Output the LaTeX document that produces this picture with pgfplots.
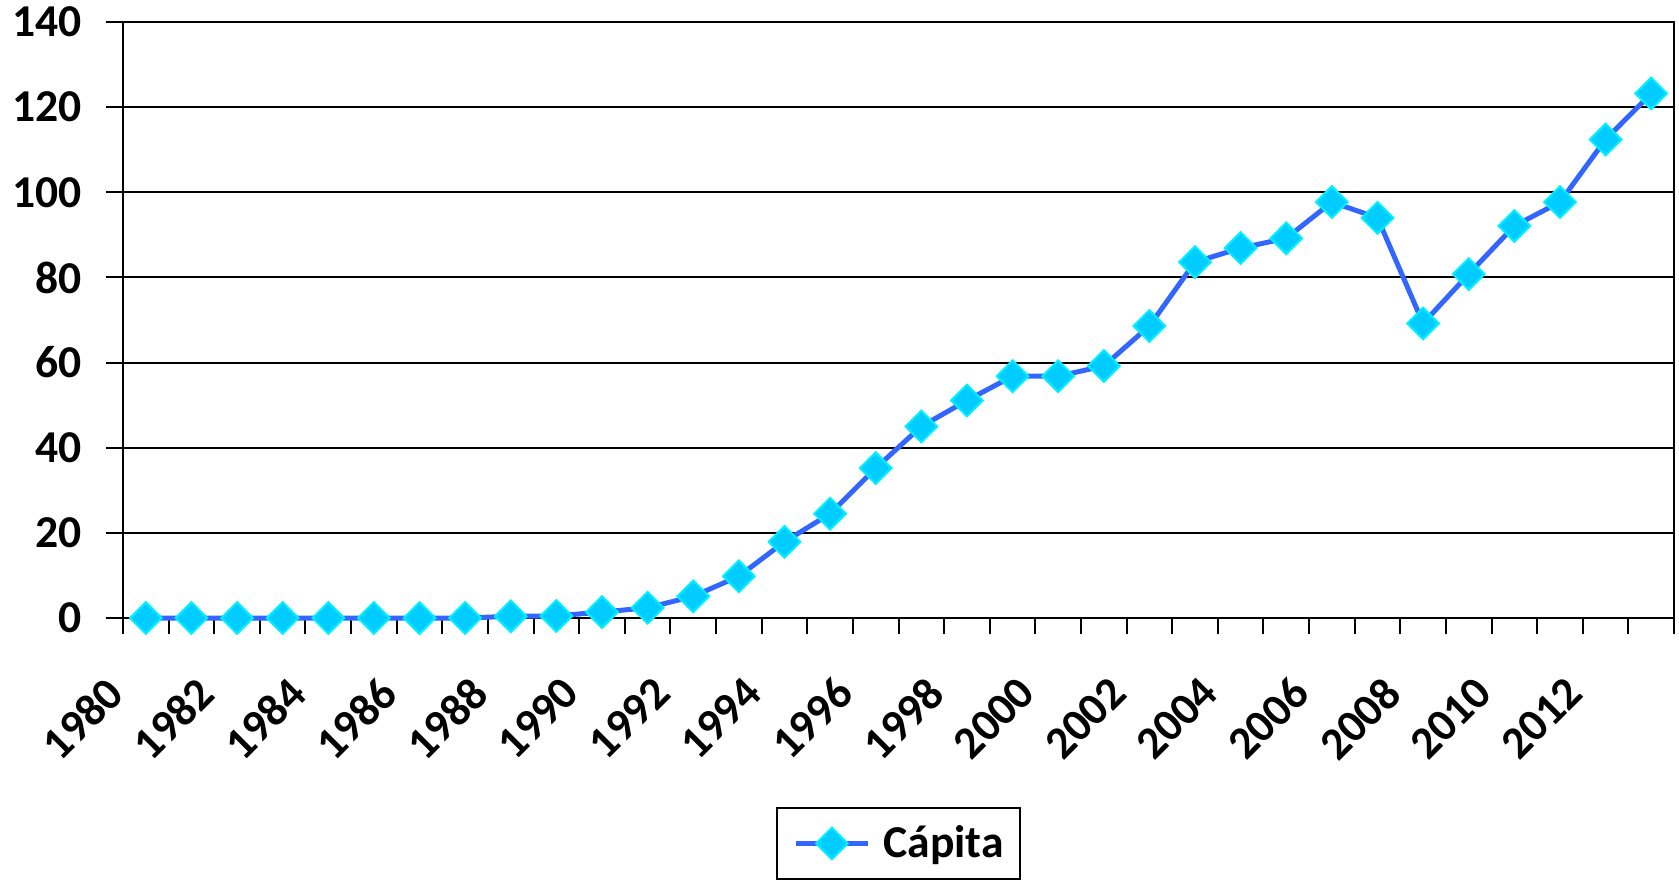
\documentclass[border=0pt]{standalone}
\usepackage{pgfplots}
\pgfplotsset{compat=1.18}
\usepackage{fontspec}
\setmainfont{Carlito}
\definecolor{serie}{HTML}{3366FF}
\definecolor{markfill}{HTML}{00CCFF}
\definecolor{markdraw}{HTML}{00F0FF}
\newcommand{\chartfont}{\fontsize{22.8}{27}\selectfont\bfseries}

\begin{document}
\begin{tikzpicture}
\begin{axis}[
    name=ax,
    scale only axis,
    width=775.5pt, height=298pt,
    xmin=-0.5, xmax=33.5,
    ymin=0, ymax=140,
    ytick={0,20,...,140},
    xtick={0,2,...,32},
    xticklabels={1980,1982,1984,1986,1988,1990,1992,1994,1996,1998,2000,2002,2004,2006,2008,2010,2012},
    minor xtick={-0.5,0.5,...,33.5},
    xtick pos=bottom, ytick pos=left,
    tick align=outside,
    major tick length=8.5pt,
    minor tick length=8pt,
    tick style={black, line width=1pt},
    major x tick style={draw=none},
    ymajorgrids,
    grid style={black, line width=1pt},
    axis line style={black, line width=1pt},
    tick label style={font=\chartfont},
    /pgf/number format/assume math mode=true,
    yticklabel style={anchor=east, inner sep=0pt, xshift=-12pt},
    xticklabel style={xshift=-21pt, yshift=-19.5pt, rotate=45, anchor=north east, inner sep=0pt},
    clip=false,
    legend style={at={(0.5,-0.317)}, anchor=north, draw=black, line width=1pt,
        font=\chartfont, inner xsep=8pt, inner ysep=9pt,
        nodes={inner sep=0pt}, column sep=6.5pt},
    legend image code/.code={\draw[mark repeat=2, mark phase=2, #1]
        plot coordinates {(0pt,0pt) (18pt,0pt) (36pt,0pt)};},
]

% Cápita, 1980 = 0 ... 2013 = 33
\addplot[color=serie, line width=2.5pt, mark=square*, mark size=5.6pt,
    mark options={rotate=45, fill=markfill, draw=markdraw, line width=1pt, solid}]
coordinates {
    (0,0) (1,0) (2,0) (3,0) (4,0) (5,0) (6,0) (7,0)
    (8,0.4) (9,0.5) (10,1.4) (11,2.4) (12,5.1) (13,9.8)
    (14,17.9) (15,24.5) (16,35.2) (17,45.0) (18,51.1) (19,56.8)
    (20,56.8) (21,59.2) (22,68.6) (23,83.6) (24,86.9) (25,89.2)
    (26,97.7) (27,94.0) (28,69.2) (29,80.8) (30,92.1) (31,97.7)
    (32,112.4) (33,123.2)
};
\addlegendentry{Cápita}

\end{axis}
\pgfresetboundingbox
\path[use as bounding box] ([shift={(-61.5pt,-131pt)}]ax.south west)
    rectangle ([shift={(778pt,309pt)}]ax.south west);
\end{tikzpicture}
\end{document}
